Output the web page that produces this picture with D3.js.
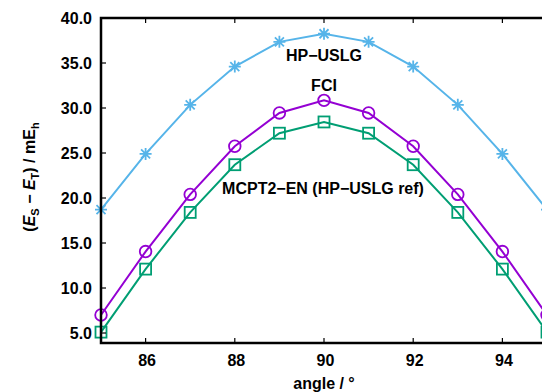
<!DOCTYPE html>
<html><head><meta charset="utf-8">
<script src="https://cdn.jsdelivr.net/npm/d3@7"></script>
<style>
body{margin:0;background:#fff;overflow:hidden}
text{font-family:"Liberation Sans",Arial,sans-serif;font-weight:bold;fill:#000}
</style></head><body>
<svg id="c" width="542" height="392"></svg>
<script>
const angles = [85,86,87,88,89,90,91,92,93,94,95];
const hpUslg = [18.7,24.9,30.35,34.6,37.35,38.25,37.35,34.6,30.35,24.9,18.7];
const fci = [7.0,14.05,20.4,25.75,29.45,30.85,29.45,25.75,20.4,14.05,7.0];
const mcpt2 = [5.1,12.1,18.4,23.7,27.2,28.45,27.2,23.7,18.4,12.1,5.1];
const xTicks = [86,88,90,92,94];
const yTicks = [5,10,15,20,25,30,35,40];

const svg = d3.select("#c");
const L=101, R=547, T=18, B=343;
const x = d3.scaleLinear().domain([85,95]).range([L,R]);
const y = d3.scaleLinear().domain([3.89,40]).range([B,T]);

const series = [
 {vals:hpUslg, color:"#56b4e9", marker:"star"},
 {vals:fci, color:"#9400d3", marker:"circle"},
 {vals:mcpt2, color:"#009e73", marker:"square"}
];
const line = d3.line().x(d=>x(d[0])).y(d=>y(d[1]));
series.forEach(s=>{
  const pts = angles.map((a,i)=>[a,s.vals[i]]);
  svg.append("path").attr("d",line(pts)).attr("fill","none").attr("stroke",s.color).attr("stroke-width",2);
  const g = svg.append("g").attr("stroke",s.color).attr("stroke-width",1.8).attr("fill","none");
  pts.forEach(p=>{
    const cx=x(p[0]), cy=y(p[1]);
    if(s.marker==="circle"){
      g.append("circle").attr("cx",cx).attr("cy",cy).attr("r",5.8);
    } else if(s.marker==="square"){
      g.append("rect").attr("x",cx-5.5).attr("y",cy-5.5).attr("width",11).attr("height",11);
    } else {
      const r=6;
      g.append("path").attr("d",`M${cx-r},${cy}H${cx+r}M${cx},${cy-r}V${cy+r}M${cx-r*0.75},${cy-r*0.75}L${cx+r*0.75},${cy+r*0.75}M${cx-r*0.75},${cy+r*0.75}L${cx+r*0.75},${cy-r*0.75}`);
    }
  });
});

const lab = [["HP−USLG",324,60.5],["FCI",324,91],["MCPT2−EN (HP−USLG ref)",323,194]];
lab.forEach(l=>svg.append("text").attr("x",l[1]).attr("y",l[2]).attr("text-anchor","middle").attr("font-size",16).text(l[0]));

const ax = svg.append("g").attr("stroke","#000").attr("fill","none");
ax.append("rect").attr("x",L).attr("y",T).attr("width",R-L).attr("height",B-T).attr("stroke-width",2.5);
xTicks.forEach(t=>{
  ax.append("line").attr("x1",x(t)).attr("x2",x(t)).attr("y1",B).attr("y2",B-5).attr("stroke-width",1.2);
  ax.append("line").attr("x1",x(t)).attr("x2",x(t)).attr("y1",T).attr("y2",T+5).attr("stroke-width",1.2);
  svg.append("text").attr("x",x(t)+1.5).attr("y",366).attr("text-anchor","middle").attr("font-size",16).text(t);
});
yTicks.forEach(t=>{
  ax.append("line").attr("x1",L).attr("x2",L+5).attr("y1",y(t)).attr("y2",y(t)).attr("stroke-width",1.2);
  ax.append("line").attr("x1",R).attr("x2",R-5).attr("y1",y(t)).attr("y2",y(t)).attr("stroke-width",1.2);
  svg.append("text").attr("x",92).attr("y",y(t)+6).attr("text-anchor","end").attr("font-size",16).text(d3.format(".1f")(t));
});

svg.append("text").attr("x",324).attr("y",389).attr("text-anchor","middle").attr("font-size",16).text("angle / °");

const yl = svg.append("text").attr("transform","translate(35,177) rotate(-90)").attr("text-anchor","middle").attr("font-size",16);
yl.append("tspan").text("(");
yl.append("tspan").attr("font-style","italic").text("E");
yl.append("tspan").attr("font-size",11).attr("dy",4).text("S");
yl.append("tspan").attr("dy",-4).text(" − ");
yl.append("tspan").attr("font-style","italic").text("E");
yl.append("tspan").attr("font-size",11).attr("dy",4).text("T");
yl.append("tspan").attr("dy",-4).text(") / mE");
yl.append("tspan").attr("font-size",11).attr("dy",4).text("h");
</script></body></html>
